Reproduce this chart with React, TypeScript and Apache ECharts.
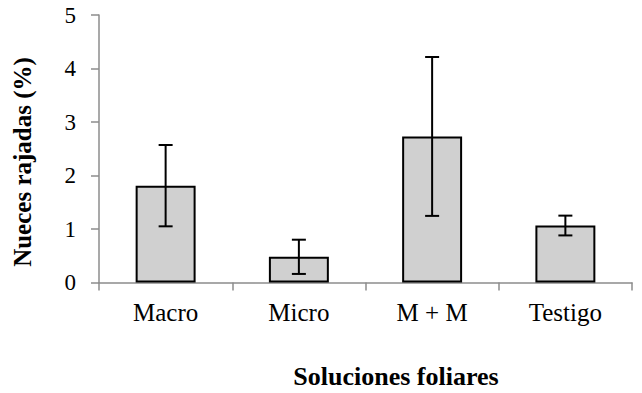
import React, { useEffect, useRef } from "react";
import * as echarts from "echarts";

const categories = ["Macro", "Micro", "M + M", "Testigo"];
const means = [1.81, 0.48, 2.73, 1.065];
const errors = [0.76, 0.32, 1.485, 0.185];
const yTicks = [0, 1, 2, 3, 4, 5];
const xTitle = "Soluciones foliares";
const yTitle = "Nueces rajadas (%)";

export default function App() {
  const ref = useRef<HTMLDivElement>(null);
  useEffect(() => {
    if (!ref.current) return;
    const chart = echarts.init(ref.current, null, { renderer: "svg" });
    const errData = means.map((m, i) => [i, m - errors[i], m + errors[i]]);
    const titleStyle = { fontFamily: "Liberation Serif", fontWeight: "bold", fontSize: 26, fill: "#000", align: "center", verticalAlign: "middle" };
    chart.setOption({
      animation: false,
      backgroundColor: "#ffffff",
      grid: { left: 99, right: 10, top: 15, bottom: 110.5 },
      graphic: [
        { type: "text", x: 396, y: 376, style: { ...titleStyle, text: xTitle } },
        { type: "text", x: 22, y: 162, rotation: Math.PI / 2, style: { ...titleStyle, fontSize: 25, text: yTitle } },
      ],
      xAxis: {
        type: "category",
        data: categories,
        axisLine: { lineStyle: { color: "#8c8c8c", width: 1.5 } },
        axisTick: { show: true, length: 8, lineStyle: { color: "#8c8c8c", width: 1.5 } },
        axisLabel: { fontFamily: "Liberation Serif", fontSize: 25, color: "#000", margin: 17 },
      },
      yAxis: {
        type: "value",
        min: yTicks[0],
        max: yTicks[yTicks.length - 1],
        interval: 1,
        axisLine: { show: true, lineStyle: { color: "#8c8c8c", width: 1.5 } },
        axisTick: { show: true, length: 8, lineStyle: { color: "#8c8c8c", width: 1.5 } },
        splitLine: { show: false },
        axisLabel: { fontFamily: "Liberation Serif", fontSize: 23, color: "#000", margin: 23 },
      },
      series: [
        {
          type: "bar",
          data: means,
          barWidth: "45%",
          itemStyle: { color: "#d0d0d0", borderColor: "#000", borderWidth: 2 },
        },
        {
          type: "custom",
          data: errData,
          z: 10,
          renderItem: (params: any, api: any) => {
            const x = api.value(0);
            const lo = api.coord([x, api.value(1)]);
            const hi = api.coord([x, api.value(2)]);
            const cap = 7;
            const style = { stroke: "#000", lineWidth: 2 };
            return {
              type: "group",
              children: [
                { type: "line", shape: { x1: lo[0], y1: lo[1], x2: hi[0], y2: hi[1] }, style },
                { type: "line", shape: { x1: hi[0] - cap, y1: hi[1], x2: hi[0] + cap, y2: hi[1] }, style },
                { type: "line", shape: { x1: lo[0] - cap, y1: lo[1], x2: lo[0] + cap, y2: lo[1] }, style },
              ],
            };
          },
        },
      ],
    });
    return () => chart.dispose();
  }, []);
  return (
    <div
      ref={ref}
      style={{ position: "fixed", left: 0, top: 0, width: 642, height: 393 }}
    />
  );
}
